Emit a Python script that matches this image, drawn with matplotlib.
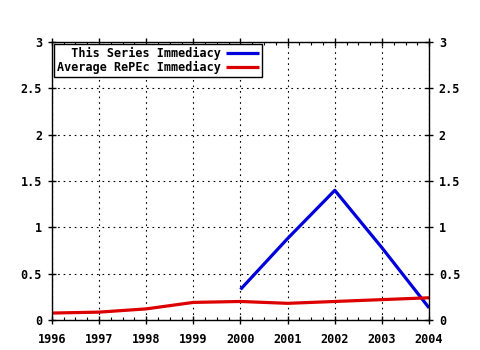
import matplotlib
matplotlib.use('Agg')
import matplotlib.pyplot as plt
from matplotlib.ticker import MultipleLocator

years_series = [2000, 2001, 2002, 2003, 2004]
series_imm = [0.33, 0.88, 1.40, 0.78, 0.13]

years_avg = [1996, 1997, 1998, 1999, 2000, 2001, 2002, 2003, 2004]
avg_imm = [0.075, 0.085, 0.12, 0.19, 0.20, 0.18, 0.20, 0.22, 0.24]

xticks = list(range(1996, 2005))
yticks = [0, 0.5, 1, 1.5, 2, 2.5, 3]
ylabels = ['0', '0.5', '1', '1.5', '2', '2.5', '3']

plt.rcParams['font.family'] = 'DejaVu Sans Mono'
plt.rcParams['font.weight'] = 'bold'
plt.rcParams['font.size'] = 8.5

fig = plt.figure(figsize=(4.8, 3.5), dpi=100)
ax = fig.add_axes([0.108, 0.0857, 0.786, 0.794])

ax.plot(years_series, series_imm, color='#0000dd', lw=2.3, solid_capstyle='butt',
        label='  This Series Immediacy')
ax.plot(years_avg, avg_imm, color='#dd0000', lw=2.3, solid_capstyle='butt',
        label='Average RePEc Immediacy')

ax.set_xlim(1996, 2004)
ax.set_ylim(0, 3)
ax.set_xticks(xticks)
ax.set_xticklabels([str(y) for y in xticks])
ax.xaxis.set_minor_locator(MultipleLocator(0.25))
ax.set_yticks(yticks)
ax.set_yticklabels(ylabels)

ax.grid(True, which='major', color='black', linestyle=(0, (1.5, 3.5)), lw=0.8)
ax.tick_params(which='major', direction='inout', length=6, width=1,
               top=True, right=True, labelright=True, labelsize=8.5, pad=4)
ax.tick_params(axis='x', which='major', pad=6)
ax.tick_params(which='minor', direction='in', length=2.5, width=0.8,
               top=True, right=False)
ax.tick_params(axis='y', which='minor', left=False, right=False)
for s in ax.spines.values():
    s.set_linewidth(1)

leg = ax.legend(loc='upper left', markerfirst=False, fancybox=False,
                edgecolor='black', framealpha=1, handlelength=2.8,
                borderpad=0.2, labelspacing=0.1, handletextpad=0.5,
                borderaxespad=0.2, prop={'family': 'DejaVu Sans Mono',
                                         'weight': 'bold', 'size': 8.5})
leg.get_frame().set_linewidth(1)

fig.savefig('out.png', dpi=100)
